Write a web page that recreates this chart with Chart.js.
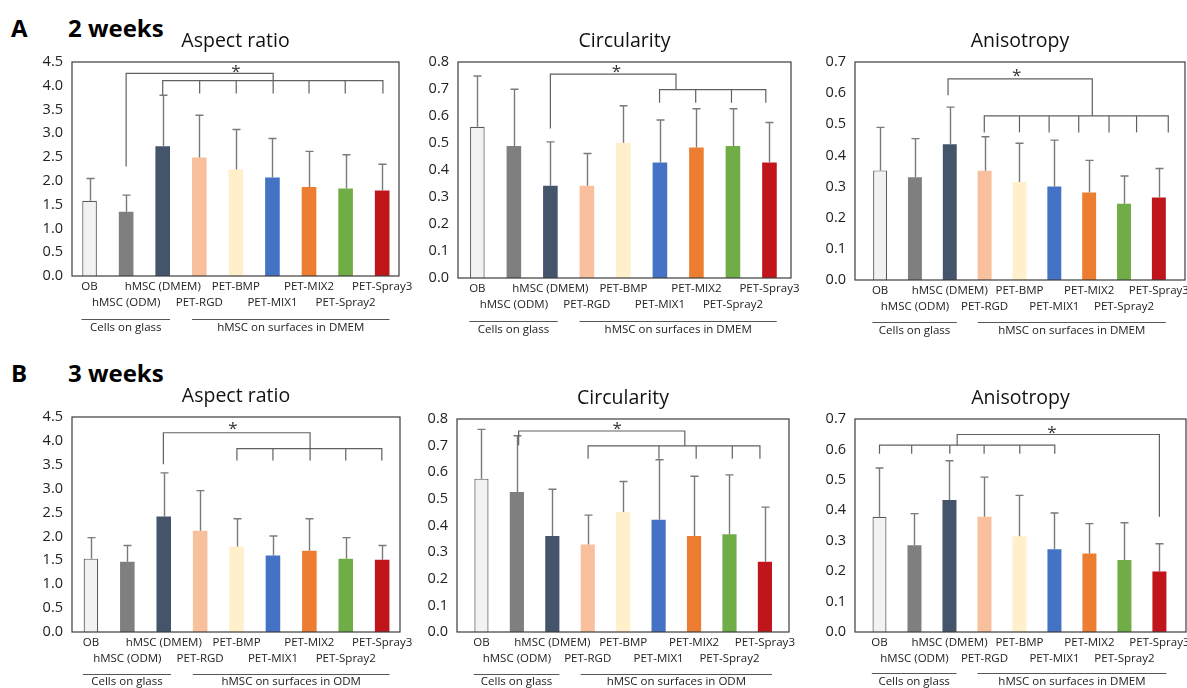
<!DOCTYPE html>
<html><head><meta charset="utf-8">
<script src="https://cdn.jsdelivr.net/npm/chart.js@4.4.1/dist/chart.umd.min.js"></script>
<style>
html,body{margin:0;padding:0;background:#fff;width:1187px;height:688px;overflow:hidden;position:relative;font-family:'Open Sans',sans-serif;}
canvas{position:absolute;}
.lab{position:absolute;font-weight:700;font-size:24px;line-height:25px;color:#000;white-space:nowrap;}
</style></head><body>
<div class="lab" style="left:11px;top:15px">A</div>
<div class="lab" style="left:68px;top:15px">2 weeks</div>
<div class="lab" style="left:11px;top:360px">B</div>
<div class="lab" style="left:68px;top:360px">3 weeks</div>
<script>
// ---------- data ----------
const categories = ['OB','hMSC (ODM)','hMSC (DMEM)','PET-RGD','PET-BMP','PET-MIX1','PET-MIX2','PET-Spray2','PET-Spray3'];
const groupLabels = ['Cells on glass','hMSC on surfaces in DMEM','hMSC on surfaces in ODM'];

const aspect2w    = [1.58, 1.35, 2.73, 2.49, 2.24, 2.07, 1.87, 1.84, 1.80];
const aspect2wSD  = [0.47, 0.35, 1.07, 0.89, 0.84, 0.82, 0.75, 0.71, 0.55];
const circ2w      = [0.560, 0.489, 0.342, 0.342, 0.501, 0.428, 0.483, 0.489, 0.428];
const circ2wSD    = [0.188, 0.210, 0.162, 0.119, 0.137, 0.157, 0.144, 0.138, 0.148];
const aniso2w     = [0.352, 0.330, 0.436, 0.351, 0.315, 0.300, 0.281, 0.245, 0.265];
const aniso2wSD   = [0.138, 0.124, 0.119, 0.109, 0.124, 0.149, 0.103, 0.089, 0.093];
const aspect3w    = [1.535, 1.47, 2.42, 2.12, 1.79, 1.60, 1.70, 1.535, 1.51];
const aspect3wSD  = [0.44, 0.34, 0.91, 0.84, 0.58, 0.41, 0.67, 0.44, 0.30];
const circ3w      = [0.576, 0.526, 0.361, 0.329, 0.451, 0.422, 0.361, 0.367, 0.264];
const circ3wSD    = [0.185, 0.211, 0.175, 0.110, 0.114, 0.225, 0.224, 0.223, 0.205];
const aniso3w     = [0.379, 0.285, 0.434, 0.379, 0.315, 0.272, 0.258, 0.237, 0.199];
const aniso3wSD   = [0.160, 0.104, 0.129, 0.130, 0.134, 0.119, 0.098, 0.122, 0.091];

// significance brackets: polylines as [category index, value]
const brAspect2w = [
  [[1,2.30],[1,4.26],[5.02,4.26],[5.02,4.11]],
  [[2,3.80],[2,4.11],[8.02,4.11],[8.02,3.84]],
  [[3.01,4.11],[3.01,3.84]],[[4.01,4.11],[4.01,3.84]],[[5.02,4.11],[5.02,3.84]],
  [[6,4.11],[6,3.84]],[[6.99,4.11],[6.99,3.84]]
];
const brCirc2w = [
  [[2,0.554],[2,0.755],[5.44,0.755],[5.44,0.698]],
  [[4.99,0.649],[4.99,0.698],[7.9,0.698],[7.9,0.649]],
  [[5.98,0.698],[5.98,0.649]],[[6.96,0.698],[6.96,0.649]]
];
const brAniso2w = [
  [[1.95,0.593],[1.95,0.646],[6.09,0.646],[6.09,0.527]],
  [[2.99,0.474],[2.99,0.527],[8.27,0.527],[8.27,0.474]],
  [[4.0,0.527],[4.0,0.474]],[[4.85,0.527],[4.85,0.474]],[[5.70,0.527],[5.70,0.474]],
  [[6.57,0.527],[6.57,0.474]],[[7.36,0.527],[7.36,0.474]]
];
const brAspect3w = [
  [[1.99,3.51],[1.99,4.17],[6.02,4.17],[6.02,3.59]],
  [[4.01,3.59],[4.01,3.84],[7.99,3.84],[7.99,3.59]],
  [[5.0,3.84],[5.0,3.59]],[[7.0,3.84],[7.0,3.59]]
];
const brCirc3w = [
  [[1.05,0.701],[1.05,0.755],[5.74,0.755],[5.74,0.699]],
  [[3.01,0.651],[3.01,0.699],[7.86,0.699],[7.86,0.651]],
  [[5.01,0.699],[5.01,0.651]],[[6.06,0.699],[6.06,0.651]],[[7.08,0.699],[7.08,0.651]]
];
const brAniso3w = [
  [[0,0.586],[0,0.614],[5.01,0.614],[5.01,0.586]],
  [[0.92,0.614],[0.92,0.586]],[[2.01,0.614],[2.01,0.586]],[[2.99,0.614],[2.99,0.586]],[[4.01,0.614],[4.01,0.586]],
  [[2.22,0.614],[2.22,0.649],[8.0,0.649],[8.0,0.379]]
];
const starAspect2w = [4.0, 4.37], starCirc2w = [3.81, 0.776], starAniso2w = [3.92, 0.667];
const starAspect3w = [3.9, 4.33], starCirc3w = [3.83, 0.776], starAniso3w = [4.93, 0.668];

// ---------- style ----------
const barColors = ['#F2F2F2','#7F7F7F','#44546A','#F8C09C','#FFF0CB','#4472C4','#ED7D31','#70AD47','#C0161B'];
const borderColors = ['#5a5a5a','#7F7F7F','#44546A','#F8C09C','#FFF0CB','#4472C4','#ED7D31','#70AD47','#C0161B'];
const borderWidths = [1.2,0,0,0,0,0,0,0,0];

const panels = [
  {title:'Aspect ratio', values:aspect2w, sd:aspect2wSD, br:brAspect2w, star:starAspect2w, ymax:4.5, step:0.5, group:groupLabels[1],
   L:71.7, T:62, R:398.3, B:275.5, xmin:-0.48, xmax:8.46, gl:43, gt:52},
  {title:'Circularity', values:circ2w, sd:circ2wSD, br:brCirc2w, star:starCirc2w, ymax:0.8, step:0.1, group:groupLabels[1],
   L:458.3, T:61.7, R:791, B:278, xmin:-0.53, xmax:8.59, gl:43, gt:52},
  {title:'Anisotropy', values:aniso2w, sd:aniso2wSD, br:brAniso2w, star:starAniso2w, ymax:0.7, step:0.1, group:groupLabels[1],
   L:855, T:62.3, R:1185, B:280, xmin:-0.72, xmax:8.75, gl:42, gt:51},
  {title:'Aspect ratio', values:aspect3w, sd:aspect3wSD, br:brAspect3w, star:starAspect3w, ymax:4.5, step:0.5, group:groupLabels[2],
   L:71.7, T:416.5, R:399.3, B:631.7, xmin:-0.52, xmax:8.49, gl:41.5, gt:50},
  {title:'Circularity', values:circ3w, sd:circ3wSD, br:brCirc3w, star:starCirc3w, ymax:0.8, step:0.1, group:groupLabels[2],
   L:457.3, T:419, R:789.3, B:631.7, xmin:-0.69, xmax:8.68, gl:41.5, gt:50},
  {title:'Anisotropy', values:aniso3w, sd:aniso3wSD, br:brAniso3w, star:starAniso3w, ymax:0.7, step:0.1, group:groupLabels[1],
   L:854.5, T:419, R:1185, B:632.3, xmin:-0.70, xmax:8.76, gl:41, gt:49.5}
];

const PADL = 60, PADT = 45, PADR = 30, PADB = 65;
const FONT = "'Open Sans', sans-serif";

const overlay = {
  id: 'overlay',
  afterDatasetsDraw(chart, args, opts) {
    const P = opts.panel;
    const {ctx, chartArea: a} = chart;
    const x = chart.scales.x, y = chart.scales.y;
    ctx.save();
    // error bars
    ctx.strokeStyle = '#7a7a7a'; ctx.lineWidth = 1.4;
    P.values.forEach((v, i) => {
      const px = Math.round(x.getPixelForValue(i)) + 0.5;
      const y1 = y.getPixelForValue(v), y2 = y.getPixelForValue(v + P.sd[i]);
      ctx.beginPath();
      ctx.moveTo(px, y1); ctx.lineTo(px, y2);
      ctx.moveTo(px - 4, y2); ctx.lineTo(px + 4, y2);
      ctx.stroke();
    });
    // brackets
    ctx.strokeStyle = '#606060'; ctx.lineWidth = 1.2;
    P.br.forEach(line => {
      ctx.beginPath();
      line.forEach(([bx, by], k) => {
        const X = x.getPixelForValue(bx), Y = y.getPixelForValue(by);
        if (k) ctx.lineTo(X, Y); else ctx.moveTo(X, Y);
      });
      ctx.stroke();
    });
    // star
    ctx.fillStyle = '#333'; ctx.font = '17px ' + FONT; ctx.textAlign = 'center'; ctx.textBaseline = 'middle';
    ctx.fillText('*', x.getPixelForValue(P.star[0]), y.getPixelForValue(P.star[1]) + 4);
    // plot box
    ctx.strokeStyle = '#3c3c3c'; ctx.lineWidth = 1.2;
    ctx.strokeRect(a.left, a.top, a.right - a.left, a.bottom - a.top);
    // title
    ctx.fillStyle = '#111'; ctx.font = '19.5px ' + FONT; ctx.textBaseline = 'middle';
    ctx.fillText(P.title, (a.left + a.right) / 2, a.top - 21);
    // group lines / labels
    const groups = [[-0.22, 2.2, groupLabels[0]], [2.8, 8.2, P.group]];
    ctx.strokeStyle = '#555'; ctx.lineWidth = 1;
    ctx.font = '11.5px ' + FONT; ctx.fillStyle = '#222';
    groups.forEach(([g0, g1, txt]) => {
      const X0 = x.getPixelForValue(g0), X1 = x.getPixelForValue(g1);
      const gy = Math.round(a.bottom + P.gl) + 0.5;
      ctx.beginPath(); ctx.moveTo(X0, gy); ctx.lineTo(X1, gy); ctx.stroke();
      ctx.fillText(txt, (X0 + X1) / 2, a.bottom + P.gt);
    });
    ctx.restore();
  }
};

panels.forEach(P => {
  const c = document.createElement('canvas');
  const w = Math.round(P.R - P.L + PADL + PADR), h = Math.round(P.B - P.T + PADT + PADB);
  c.width = w; c.height = h;
  c.style.width = w + 'px'; c.style.height = h + 'px';
  c.style.left = (P.L - PADL) + 'px'; c.style.top = (P.T - PADT) + 'px';
  document.body.appendChild(c);
  new Chart(c, {
    type: 'bar',
    data: {
      datasets: [{
        data: P.values.map((v, i) => ({x: i, y: v})),
        backgroundColor: barColors, borderColor: borderColors, borderWidth: borderWidths,
        categoryPercentage: 1, barPercentage: 0.4
      }]
    },
    options: {
      responsive: false, animation: false, maintainAspectRatio: false,
      layout: {padding: {left: 0, top: PADT, right: PADR, bottom: 0}},
      plugins: {legend: {display: false}, tooltip: {enabled: false}, overlay: {panel: P}},
      scales: {
        x: {
          type: 'linear', min: P.xmin, max: P.xmax, offset: false,
          grid: {display: false, drawTicks: false}, border: {display: false},
          afterFit(s) { s.height = PADB; },
          ticks: {
            stepSize: 1, autoSkip: false, maxRotation: 0, minRotation: 0, includeBounds: false,
            padding: 3, color: '#222', font: {family: FONT, size: 11.5, lineHeight: '16px'},
            callback: (v) => {
              if (!Number.isInteger(v) || v < 0 || v >= categories.length) return '';
              return v % 2 === 0 ? [categories[v], ''] : ['', categories[v]];
            }
          }
        },
        y: {
          min: 0, max: P.ymax,
          grid: {display: false, drawTicks: false}, border: {display: false},
          afterFit(s) { s.width = PADL; },
          ticks: {stepSize: P.step, padding: 9, color: '#222', font: {family: FONT, size: 14.5},
            callback: (v) => Number(v).toFixed(1)}
        }
      }
    },
    plugins: [overlay]
  });
});
</script>
</body></html>
